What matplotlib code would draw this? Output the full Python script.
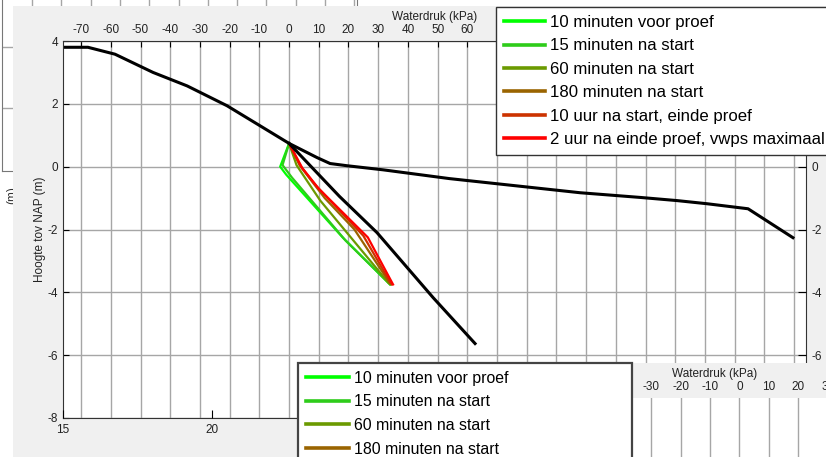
import numpy as np
import matplotlib
matplotlib.use("Agg")
import matplotlib.pyplot as plt
from matplotlib.patches import Rectangle

plt.rcParams['font.family'] = ['Liberation Sans', 'DejaVu Sans']
plt.rcParams['axes.unicode_minus'] = False

# ---- data ----
labels = ['10 minuten voor proef', '15 minuten na start', '60 minuten na start',
          '180 minuten na start', '10 uur na start, einde proef',
          '2 uur na einde proef, vwps maximaal']
colors = ['#00ff00', '#2ecc1a', '#6b9a00', '#9a6400', '#cc3300', '#ff0000']

p10v_x = [0, -3.0, -1.0, 18, 34]
p10v_y = [0.74, 0.0, -0.25, -2.25, -3.75]
p15_x = [0, -2.2, 1.0, 19, 34]
p15_y = [0.74, 0.05, -0.35, -2.35, -3.75]
p60_x = [0, 2.5, 10.5, 33.5]
p60_y = [0.74, 0.05, -1.08, -3.7]
p180_x = [0, 3.5, 12, 22, 34]
p180_y = [0.74, 0.05, -1.0, -2.0, -3.72]
p10u_x = [0, 4.0, 9.0, 25, 34.5]
p10u_y = [0.74, 0.0, -0.6, -2.2, -3.75]
p2u_x = [0, 4.5, 10, 26.5, 35]
p2u_y = [0.74, -0.05, -0.7, -2.25, -3.75]

# hydrostatic / reference lines
ref1_x = [-76, -67.7, -58.6, -45.8, -34.3, -20.9, -8.7, 0, 9.4, 13.8, 19.5,
          31.6, 54, 98, 118.3, 130.6, 140.7, 154.5, 169.6]
ref1_y = [3.8, 3.8, 3.58, 3.0, 2.57, 1.94, 1.24, 0.74, 0.29, 0.1, 0.03,
          -0.1, -0.38, -0.83, -0.98, -1.08, -1.18, -1.34, -2.26]
ref2_x = [0, 17, 29.6, 48.5, 62.6]
ref2_y = [0.74, -0.95, -2.1, -4.17, -5.63]

kpa_ticks = np.arange(-70, 180, 10)
depth_ticks = np.arange(-8, 5, 2)
bottom_ticks = np.arange(15, 41, 5)
kpa2_ticks = np.arange(-40, 31, 10)

W, H = 826, 457


def box(l, t, r, b):
    return [l / W, 1 - b / H, (r - l) / W, (b - t) / H]


fig = plt.figure(figsize=(W / 100, H / 100), dpi=100)
fig.patch.set_facecolor('white')

# ---- window behind ----
back = fig.add_axes(box(2, -40, 357, 171), zorder=-5)
back.set_xlim(2, 357)
back.set_ylim(171, -40)
back.set_xticks(np.arange(32, 357, 29.3))
back.set_yticks([47, 108])
back.grid(True, color='#a6a6a6', lw=1)
back.tick_params(length=0, labelleft=False, labelbottom=False)
for s in back.spines.values():
    s.set_color('#777777')
fig.patches.append(Rectangle((0, 0), 13 / W, 1 - 218 / H, transform=fig.transFigure,
                             facecolor='white', edgecolor='none', zorder=-4))
fig.text(12 / W, 1 - 195 / H, '(m)', rotation=90, ha='center', va='center',
         fontsize=8.5, color='#333333', zorder=-4)

# ---- main window ----
fig.patches.append(Rectangle((13 / W, 0), 1, 1 - 6 / H, transform=fig.transFigure,
                             facecolor='#f0f0f0', edgecolor='none', zorder=-3))

ax = fig.add_axes(box(63, 41, 806, 418), zorder=0)
handles = []
for xs, ys, c, lab in zip([p10v_x, p15_x, p60_x, p180_x, p10u_x, p2u_x],
                          [p10v_y, p15_y, p60_y, p180_y, p10u_y, p2u_y],
                          colors, labels):
    h, = ax.plot(xs, ys, color=c, lw=1.6, label=lab)
    handles.append(h)
ax.plot(ref1_x, ref1_y, color='black', lw=2.2)
ax.plot(ref2_x, ref2_y, color='black', lw=2.2)

ax.set_xlim(-76.1, 174.0)
ax.set_ylim(-8, 4)
ax.xaxis.tick_top()
ax.xaxis.set_label_position('top')
ax.set_xticks(kpa_ticks)
ax.set_xticklabels([str(v) if v <= 60 else '' for v in kpa_ticks])
ax.set_yticks(depth_ticks)
ax.grid(True, color='#a6a6a6', lw=1)
ax.tick_params(direction='in', labelsize=8.5, labelcolor='#222222', length=4,
               pad=3.5)
ax.set_xlabel('Waterdruk (kPa)', fontsize=8.5, color='#222222', labelpad=3)
ax.set_ylabel('Hoogte tov NAP (m)', fontsize=8.5, color='#222222', labelpad=1)
for s in ax.spines.values():
    s.set_color('#333333')

ax_b = fig.add_axes(box(63, 41, 806, 418), zorder=0.5)
ax_b.patch.set_visible(False)
for s in ax_b.spines.values():
    s.set_visible(False)
ax_b.set_xlim(15, 39.93)
ax_b.set_ylim(-8, 4)
ax_b.set_xticks(bottom_ticks)
ax_b.set_xticklabels([str(v) if v <= 20 else '' for v in bottom_ticks])
ax_b.set_yticks(depth_ticks)
ax_b.set_yticklabels([str(v) if -6 <= v <= 0 else '' for v in depth_ticks])
ax_b.yaxis.tick_right()
ax_b.tick_params(direction='in', labelsize=8.5, labelcolor='#222222', length=6,
                 pad=4)

leg1 = fig.legend(handles, labels, loc='upper left',
                  bbox_to_anchor=(496 / W, 1 - 7 / H),
                  fontsize=12.1, frameon=True, fancybox=False, edgecolor='#333333',
                  framealpha=1, handlelength=2.45, handletextpad=0.3,
                  labelspacing=0.5, borderpad=0.48, borderaxespad=0)
leg1.set_zorder(1)
for ln in leg1.get_lines():
    ln.set_linewidth(2.6)

# ---- window in front (bottom right) ----
fig.patches.append(Rectangle((298 / W, 0), 1, 1 - 363 / H, transform=fig.transFigure,
                             facecolor='#f0f0f0', edgecolor='none', zorder=2))
ax2 = fig.add_axes(box(600, 398, 830, 480), zorder=3)
ax2.set_xlim(-47.4, 30.8)
ax2.set_ylim(0, 1)
ax2.xaxis.tick_top()
ax2.xaxis.set_label_position('top')
ax2.set_xticks(kpa2_ticks)
ax2.set_xticklabels([str(v) if v >= -30 else '' for v in kpa2_ticks])
ax2.set_yticks([])
ax2.grid(True, axis='x', color='#a6a6a6', lw=1)
ax2.tick_params(direction='in', labelsize=8.5, labelcolor='#222222', length=0,
                pad=3.5)
ax2.set_xlabel('Waterdruk (kPa)', fontsize=8.5, color='#222222', labelpad=3)
for s in ax2.spines.values():
    s.set_visible(False)

leg2 = fig.legend(handles, labels, loc='upper left',
                  bbox_to_anchor=(298 / W, 0, 334 / W, 1 - 363 / H), mode='expand',
                  fontsize=11.4, frameon=True, fancybox=False, edgecolor='#444444',
                  framealpha=1, handlelength=2.7, handletextpad=0.32,
                  labelspacing=0.54, borderpad=0.5, borderaxespad=0)
leg2.get_frame().set_linewidth(1.6)
leg2.set_zorder(4)
for ln in leg2.get_lines():
    ln.set_linewidth(2.6)

fig.savefig('out.png', dpi=100)
